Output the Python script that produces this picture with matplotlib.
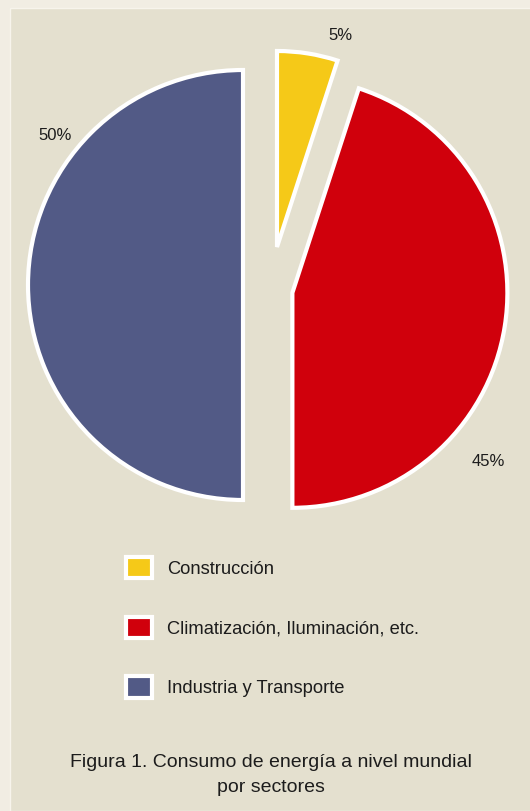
import matplotlib
matplotlib.use('Agg')
import matplotlib.pyplot as plt
from matplotlib.patches import Rectangle

## datos
sectores = ['Construcción', 'Climatización, Iluminación, etc.', 'Industria y Transporte']
valores = [5, 45, 50]
etiquetas_pct = ['5%', '45%', '50%']
colores = ['#f5c918', '#d0000c', '#525a86']

## figura (coordenadas en pixeles, y hacia arriba)
W, H = 530, 811
plt.rcParams['font.family'] = ['Liberation Sans', 'DejaVu Sans']
fig = plt.figure(figsize=(W / 100, H / 100), dpi=100)
fig.patch.set_facecolor('#f1ede3')

ax = fig.add_axes([0, 0, 1, 1])

radio = 215
# ojo: explode va en unidades de datos (pixeles aqui)
wedges, _ = ax.pie(valores, colors=colores, startangle=90, counterclock=False,
                   center=(243, H - 285), radius=radio, explode=[0, 50, 0],
                   wedgeprops=dict(edgecolor='white', linewidth=3))
# el trozo amarillo esta separado y un poco mas chico
cx, cy = wedges[0].center
wedges[0].set_center((cx + 34, cy + 38))
wedges[0].set_radius(196)

ax.set_xlim(0, W)
ax.set_ylim(0, H)
ax.set_aspect('equal')
ax.axis('off')

# fondo interior
ax.add_patch(Rectangle((10, 0), W, H - 8, facecolor='#e4e0cf', edgecolor='#f7f4ec',
                       linewidth=1, zorder=-5))

## porcentajes
pos_pct = [(340, 35), (488, 462), (55, 135)]
for txt, (px, py) in zip(etiquetas_pct, pos_pct):
    ax.text(px, H - py, txt, ha='center', va='center', fontsize=12, color='#1c1c1c')

## leyenda
ax.legend(wedges, sectores, loc='upper left', bbox_to_anchor=(126 / W, 1 - 557 / H),
          bbox_transform=fig.transFigure, frameon=False, fontsize=13.2,
          handlelength=1.4, handleheight=1.4, handletextpad=0.85,
          labelspacing=2.1, borderpad=0, borderaxespad=0, labelcolor='#1c1c1c')

## titulo abajo
ax.text(271, H - 775, 'Figura 1. Consumo de energía a nivel mundial\npor sectores',
        ha='center', va='center', fontsize=14, color='#1c1c1c', linespacing=1.55)

fig.savefig('out.png', dpi=100, facecolor=fig.get_facecolor())
